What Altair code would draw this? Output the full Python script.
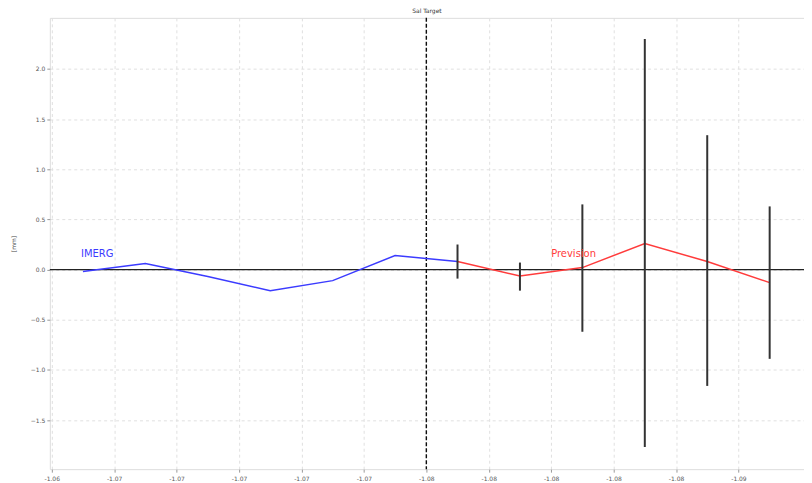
import altair as alt
import pandas as pd

# ---- data ----
imerg_idx = [0, 1, 2, 3, 4, 5, 6]
imerg_val = [-0.02, 0.06, -0.07, -0.21, -0.11, 0.14, 0.08]

prev_idx = [6, 7, 8, 9, 10, 11]
prev_val = [0.08, -0.065, 0.02, 0.26, 0.08, -0.13]
prev_hi = [0.25, 0.07, 0.65, 2.30, 1.34, 0.63]
prev_lo = [-0.09, -0.21, -0.62, -1.77, -1.16, -0.89]

tick_pos = [-0.5, 0.5, 1.5, 2.5, 3.5, 4.5, 5.5, 6.5, 7.5, 8.5, 9.5, 10.5]
tick_labels = ["-1.06", "-1.07", "-1.07", "-1.07", "-1.07", "-1.07",
               "-1.08", "-1.08", "-1.08", "-1.08", "-1.08", "-1.09"]
split_pos = 5.5
title_text = "Sal Target"
y_title = "[mm]"

imerg = pd.DataFrame({"i": imerg_idx, "v": imerg_val})
prev = pd.DataFrame({"i": prev_idx, "v": prev_val, "hi": prev_hi, "lo": prev_lo})

label_map = "{" + ",".join(f"'{p}':'{l}'" for p, l in zip(tick_pos, tick_labels)) + "}"
label_expr = f"{label_map}[toString(datum.value)] || ''"

xscale = alt.Scale(domain=[-0.53, 11.55], nice=False, zero=False)
yscale = alt.Scale(domain=[-1.99, 2.51], nice=False, zero=False)

xaxis = alt.Axis(values=tick_pos, labelExpr=label_expr, title=None, grid=True,
                 gridDash=[3, 3], gridColor="#e0e0e0", labelFontSize=6,
                 labelColor="#555", tickSize=3, tickColor="#999", domain=False,
                 labelPadding=3, labelFont="DejaVu Sans")
yaxis = alt.Axis(values=[-1.5, -1.0, -0.5, 0.0, 0.5, 1.0, 1.5, 2.0], format=".1f",
                 title=y_title, titleFontSize=6, titleFontWeight="normal",
                 titleColor="#444", titlePadding=14, grid=True, gridDash=[3, 3],
                 gridColor="#e0e0e0", labelFontSize=6, labelColor="#555",
                 tickSize=3, tickColor="#999", domain=False, labelPadding=2,
                 labelFont="DejaVu Sans", titleFont="DejaVu Sans")

base_x = alt.X("i:Q", scale=xscale, axis=xaxis)
base_y = alt.Y("v:Q", scale=yscale, axis=yaxis)

zero_df = pd.DataFrame({"v": [0.0]})
zero_line = alt.Chart(zero_df).mark_rule(color="#222", strokeWidth=1.3).encode(
    y=alt.Y("v:Q", scale=yscale))

split_df = pd.DataFrame({"i": [split_pos]})
split_line = alt.Chart(split_df).mark_rule(color="black", strokeWidth=1.3,
                                            strokeDash=[4, 2]).encode(
    x=alt.X("i:Q", scale=xscale))

imerg_line = alt.Chart(imerg).mark_line(color="#3b3bff", strokeWidth=1.5).encode(
    x=base_x, y=base_y)

prev_line = alt.Chart(prev).mark_line(color="#ff3b3b", strokeWidth=1.5).encode(
    x=alt.X("i:Q", scale=xscale), y=alt.Y("v:Q", scale=yscale))

err = alt.Chart(prev).mark_rule(color="#333", strokeWidth=2).encode(
    x=alt.X("i:Q", scale=xscale), y=alt.Y("lo:Q", scale=yscale), y2="hi:Q")

labels_df = pd.DataFrame({"i": [-0.03, 7.5], "v": [0.16, 0.16],
                          "t": ["IMERG", "Prevision"], "c": ["#3b3bff", "#ff3b3b"]})
labels = alt.Chart(labels_df).mark_text(align="left", baseline="middle",
                                        fontSize=10, font="DejaVu Sans").encode(
    x=alt.X("i:Q", scale=xscale), y=alt.Y("v:Q", scale=yscale),
    text="t:N", color=alt.Color("c:N", scale=None))

chart = alt.layer(zero_line, split_line, imerg_line, prev_line, err, labels).properties(
    width=757, height=453,
    title=alt.Title(title_text, fontSize=6, fontWeight="normal", color="#333",
                    offset=3, font="DejaVu Sans"),
    autosize="none",
    padding={"left": 42, "top": 9, "right": 0, "bottom": 13},
).configure_view(stroke="#a0a0a0", strokeWidth=1.5).configure(background="white")

chart.save("out.html", embed_options={"renderer": "svg", "actions": False})
